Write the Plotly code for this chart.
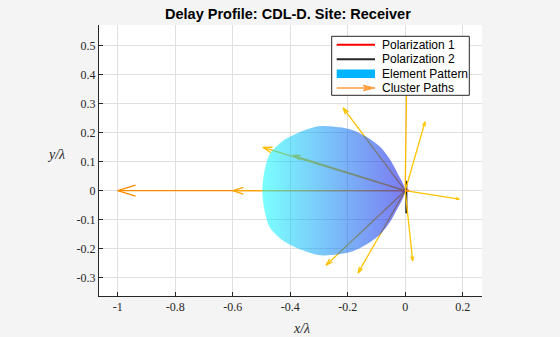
import numpy as np
import plotly.graph_objects as go

# ---------------- data ----------------
# cluster path end points (x/lambda, y/lambda); all paths start at the origin
PATH_END_X = [-1.000, -0.600, -0.495, -0.390, -0.216, 0.006, 0.069, 0.188, 0.026, -0.164, -0.275]
PATH_END_Y = [0.000, 0.000, 0.150, 0.122, 0.286, 0.450, 0.238, -0.029, -0.242, -0.284, -0.257]
PATH_COLORS = ['#FF8C00', '#FFA600', '#FFBE00', '#F5C000', '#F8C000', '#FFB400',
               '#FFC400', '#FFC400', '#FFC400', '#FFC400', '#F8C000']

# element pattern outline: angle from boresight (pointing to -x) and radius
PATTERN_ANGLE_DEG = [0, 8, 15, 22, 30, 37, 44, 49, 54, 60, 64, 66, 67.5]
PATTERN_RADIUS = [0.497, 0.494, 0.488, 0.459, 0.412, 0.371, 0.315, 0.277, 0.230, 0.175, 0.118, 0.072, 0.0]

# polarization segments at the origin
POL1_X = [-0.011, 0.013]
POL1_Y = [0.0, 0.0]
POL2_X = [0.004, 0.004]
POL2_Y = [0.034, -0.078]

X_TICKS = [-1, -0.8, -0.6, -0.4, -0.2, 0, 0.2]
X_TICK_LABELS = ['-1', '-0.8', '-0.6', '-0.4', '-0.2', '0', '0.2']
Y_TICKS = [-0.3, -0.2, -0.1, 0, 0.1, 0.2, 0.3, 0.4, 0.5]
Y_TICK_LABELS = ['-0.3', '-0.2', '-0.1', '0', '0.1', '0.2', '0.3', '0.4', '0.5']

LEGEND_LABELS = ['Polarization 1', 'Polarization 2', 'Element Pattern', 'Cluster Paths']
TITLE = 'Delay Profile: CDL-D. Site: Receiver'

# ---------------- layout geometry ----------------
W, H = 560, 337
ML, MR, MT, MB = 99, 78, 25, 41
PW, PH = W - ML - MR, H - MT - MB
X_RANGE = [-1.065, 0.2671]
Y_RANGE = [-0.3637, 0.5724]


def px(p):
    return (p - ML) / PW


def py(p):
    return (H - MB - p) / PH


fig = go.Figure()

# polarization 2 (below the paths)
fig.add_trace(go.Scatter(x=POL2_X, y=POL2_Y, mode='lines',
                         line=dict(color='#1A1A1A', width=2), showlegend=False, hoverinfo='skip'))
fig.add_trace(go.Scatter(x=POL1_X, y=POL1_Y, mode='lines',
                         line=dict(color='#FF0000', width=2), showlegend=False, hoverinfo='skip'))

# cluster paths with open arrow heads
HEAD_FRAC = 0.065
HEAD_HALF = np.deg2rad(17)
for ex, ey, col in zip(PATH_END_X, PATH_END_Y, PATH_COLORS):
    L = np.hypot(ex, ey)
    ang = np.arctan2(ey, ex)
    hl = HEAD_FRAC * L
    b1 = (ex - hl * np.cos(ang - HEAD_HALF), ey - hl * np.sin(ang - HEAD_HALF))
    b2 = (ex - hl * np.cos(ang + HEAD_HALF), ey - hl * np.sin(ang + HEAD_HALF))
    xs = [0, ex, None, b1[0], ex, b2[0]]
    ys = [0, ey, None, b1[1], ey, b2[1]]
    fig.add_trace(go.Scatter(x=xs, y=ys, mode='lines', line=dict(color=col, width=1.3),
                             showlegend=False, hoverinfo='skip'))

# element pattern (semi-transparent, gradient)
ang = np.deg2rad(np.array(PATTERN_ANGLE_DEG))
rad = np.array(PATTERN_RADIUS)
full_ang = np.concatenate([-ang[::-1], ang[1:]])
full_rad = np.concatenate([rad[::-1], rad[1:]])
pat_x = -full_rad * np.cos(full_ang)
pat_y = full_rad * np.sin(full_ang)
fig.add_trace(go.Scatter(x=pat_x, y=pat_y, mode='lines', fill='toself',
                         line=dict(width=0, shape='spline', smoothing=0.8),
                         fillgradient=dict(type='horizontal',
                                           colorscale=[[0, '#00FFFF'], [1, '#0000E6']],
                                           start=float(pat_x.min()), stop=0.0),
                         opacity=0.52, showlegend=False, hoverinfo='skip'))

# ---------------- manual legend ----------------
shapes = []
annotations = []
LX0, LX1, LY0, LY1 = 331.7, 469.3, 36.3, 95.3
shapes.append(dict(type='rect', xref='paper', yref='paper', x0=px(LX0), x1=px(LX1),
                   y0=py(LY1), y1=py(LY0), fillcolor='white',
                   line=dict(color='#262626', width=1), layer='above'))
rows = [44.7, 59.3, 73.7, 88.0]
SX0, SX1 = 336.7, 375.0
shapes.append(dict(type='line', xref='paper', yref='paper', x0=px(SX0), x1=px(SX1),
                   y0=py(rows[0]), y1=py(rows[0]), line=dict(color='#FF0000', width=2), layer='above'))
shapes.append(dict(type='line', xref='paper', yref='paper', x0=px(SX0), x1=px(SX1),
                   y0=py(rows[1]), y1=py(rows[1]), line=dict(color='#262626', width=2), layer='above'))
shapes.append(dict(type='rect', xref='paper', yref='paper', x0=px(SX0), x1=px(SX1),
                   y0=py(rows[2] + 4.3), y1=py(rows[2] - 4.3), fillcolor='#00B4FF',
                   line=dict(width=0), layer='above'))
shapes.append(dict(type='line', xref='paper', yref='paper', x0=px(SX0), x1=px(SX1 - 6),
                   y0=py(rows[3]), y1=py(rows[3]), line=dict(color='#FF9F3F', width=1.5), layer='above'))
shapes.append(dict(type='path', xref='paper', yref='paper',
                   path=f"M {px(SX1)},{py(rows[3])} L {px(SX1 - 12)},{py(rows[3] - 2.8)} "
                        f"L {px(SX1 - 9)},{py(rows[3])} L {px(SX1 - 12)},{py(rows[3] + 2.8)} Z",
                   fillcolor='#FF9F3F', line=dict(color='#FF9F3F', width=1), layer='above'))
for lab, r in zip(LEGEND_LABELS, rows):
    annotations.append(dict(text=lab, xref='paper', yref='paper', x=px(380), y=py(r),
                            xanchor='left', yanchor='middle', showarrow=False,
                            font=dict(family='Liberation Sans, Arial', size=12, color='#000000')))

# axis labels and title
annotations.append(dict(text='<i>x/λ</i>', xref='paper', yref='paper', x=px(301), y=py(328),
                        xanchor='center', yanchor='middle', showarrow=False,
                        font=dict(family='Liberation Serif, Times New Roman', size=14, color='#262626')))
annotations.append(dict(text='<i>y/λ</i>', xref='paper', yref='paper', x=px(56), y=py(154),
                        xanchor='center', yanchor='middle', showarrow=False,
                        font=dict(family='Liberation Serif, Times New Roman', size=14, color='#262626')))
annotations.append(dict(text='<b>' + TITLE + '</b>', xref='paper', yref='paper', x=px(288.3), y=py(14),
                        xanchor='center', yanchor='middle', showarrow=False,
                        font=dict(family='Liberation Sans, Arial', size=14.5, color='#000000')))

axis_common = dict(showgrid=True, gridcolor='#DFDFDF', gridwidth=1, zeroline=False,
                   showline=True, linecolor='#262626', linewidth=1, mirror=False,
                   ticks='inside', ticklen=4, tickcolor='#262626', tickwidth=1,
                   tickfont=dict(family='Liberation Serif, Times New Roman', size=12, color='#262626'))

fig.update_layout(
    width=W, height=H,
    margin=dict(l=ML, r=MR, t=MT, b=MB, pad=0),
    paper_bgcolor='#F4F4F4', plot_bgcolor='#FFFFFF',
    showlegend=False,
    xaxis=dict(range=X_RANGE, tickvals=X_TICKS, ticktext=X_TICK_LABELS, **axis_common),
    yaxis=dict(range=Y_RANGE, tickvals=Y_TICKS, ticktext=Y_TICK_LABELS, **axis_common),
    shapes=shapes, annotations=annotations,
)

fig.write_html('out.html')
